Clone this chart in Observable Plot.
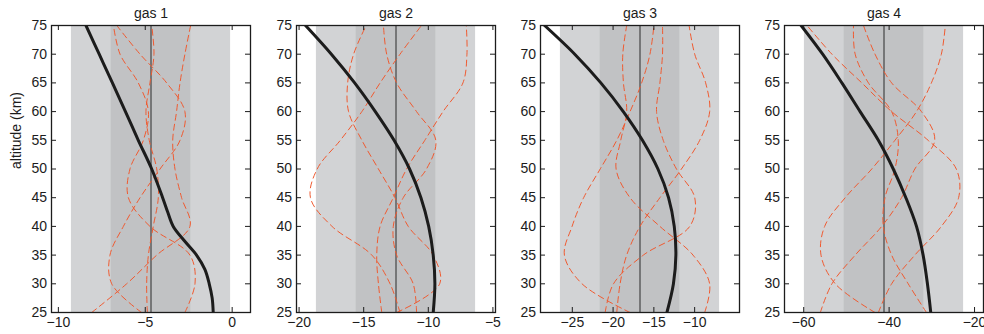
<!DOCTYPE html>
<html>
<head>
<meta charset="utf-8">
<script src="https://cdn.jsdelivr.net/npm/d3@7"></script>
<script src="https://cdn.jsdelivr.net/npm/@observablehq/plot@0.6"></script>
<style>
  body { margin: 0; background: #fff; overflow: hidden; }
  #chart { position: relative; width: 984px; height: 334px; }
  #chart svg { position: absolute; top: 0; }
</style>
</head>
<body>
<div id="chart"></div>
<script>
// Altitude grid (km) shared by the ensemble members
const altitude = [25, 30, 35, 40, 45, 50, 55, 60, 65, 70, 75];
const altTicks = [25, 30, 35, 40, 45, 50, 55, 60, 65, 70, 75];

const gasNames = ["gas 1", "gas 2", "gas 3", "gas 4"];

// Prior mean and standard deviation for each gas
const priorMean = [-4.67, -12.5, -16.7, -41.2];
const priorSigma = [2.29, 3.08, 4.88, 9.32];

const xTicks1 = [-10, -5, 0];
const xTicks2 = [-20, -15, -10, -5];
const xTicks3 = [-25, -20, -15, -10];
const xTicks4 = [-60, -40, -20];

// True profiles (thick black lines)
const trueAlt1 = [25, 27.5, 30, 32.5, 35, 37.5, 40, 42.5, 45, 50, 55, 60, 65, 70, 75];
const trueGas1 = [-1.09, -1.15, -1.32, -1.57, -2.05, -2.75, -3.39, -3.71, -4.0, -4.63, -5.40, -6.14, -6.89, -7.65, -8.41];
const trueGas2 = [-9.62, -9.49, -9.62, -9.97, -10.57, -11.45, -12.65, -14.1, -15.7, -17.5, -19.5];
const trueGas3 = [-13.4, -12.6, -12.3, -12.5, -13.2, -14.5, -16.4, -18.75, -21.5, -24.7, -28.4];
const trueGas4 = [-30.25, -31.03, -32.04, -33.59, -36.08, -39.03, -42.52, -46.79, -51.06, -55.56, -60.61];

// Ensemble members drawn from the prior (red dashed lines), on the altitude grid
const ens1a = [-5.21, -6.93, -7.03, -6.26, -5.30, -4.15, -3.00, -2.72, -3.77, -5.30, -6.64];
const ens1b = [-8.08, -6.07, -4.34, -2.43, -2.91, -3.29, -3.42, -3.20, -3.00, -2.72, -2.39];
const ens1c = [-4.88, -4.92, -4.82, -4.54, -4.25, -4.34, -4.77, -4.96, -4.73, -4.50, -4.63];
const ens1d = [-2.72, -2.14, -2.43, -4.73, -5.97, -5.88, -5.11, -4.82, -5.40, -6.45, -6.83];

const ens2a = [-12.45, -9.12, -9.63, -11.55, -12.58, -13.86, -15.14, -16.17, -16.24, -15.78, -14.81];
const ens2b = [-12.19, -12.96, -14.37, -17.45, -19.12, -18.6, -16.81, -15.14, -13.73, -12.19, -10.53];
const ens2c = [-13.60, -13.86, -13.99, -13.73, -12.71, -11.68, -10.27, -8.86, -7.32, -7.01, -7.06];
const ens2d = [-10.91, -11.17, -12.45, -12.71, -11.94, -10.14, -9.42, -10.91, -12.45, -13.22, -13.47];

const ens3a = [-17.92, -23.81, -25.97, -25.03, -23.61, -21.58, -19.55, -17.92, -16.5, -15.48, -14.99];
const ens3b = [-19.55, -19.14, -18.33, -16.7, -14.26, -11.62, -9.38, -8.16, -8.65, -9.99, -10.68];
const ens3c = [-8.77, -8.16, -10.2, -14.26, -17.92, -19.63, -19.06, -18.33, -18.73, -18.81, -18.33];
const ens3d = [-20.97, -19.95, -16.29, -10.6, -9.99, -12.23, -13.85, -14.67, -14.26, -13.94, -13.94];

const ens4a = [-42.52, -39.41, -33.98, -27.77, -23.73, -24.27, -30.87, -39.41, -46.4, -53.39, -59.21];
const ens4b = [-43.3, -52.61, -55.95, -55.1, -50.28, -44.07, -38.64, -33.59, -30.1, -27.77, -26.84];
const ens4c = [-31.26, -35.53, -39.41, -41.36, -40.97, -38.64, -37.86, -39.41, -44.85, -47.95, -48.34];
const ens4d = [-56.11, -53.39, -47.95, -41.74, -37.09, -33.98, -29.32, -32.43, -39.41, -43.3, -46.01];

const panels = [
  {name: gasNames[0], mean: priorMean[0], sigma: priorSigma[0], ticks: xTicks1, trueAlt: trueAlt1, truth: trueGas1, ens: [ens1a, ens1b, ens1c, ens1d]},
  {name: gasNames[1], mean: priorMean[1], sigma: priorSigma[1], ticks: xTicks2, trueAlt: altitude, truth: trueGas2, ens: [ens2a, ens2b, ens2c, ens2d]},
  {name: gasNames[2], mean: priorMean[2], sigma: priorSigma[2], ticks: xTicks3, trueAlt: altitude, truth: trueGas3, ens: [ens3a, ens3b, ens3c, ens3d]},
  {name: gasNames[3], mean: priorMean[3], sigma: priorSigma[3], ticks: xTicks4, trueAlt: altitude, truth: trueGas4, ens: [ens4a, ens4b, ens4c, ens4d]}
];

// Layout of the four axes boxes
const svgLeft = [0, 256, 500, 744];
const boxLeft = [51, 296, 540, 784];
const boxWidth = 199;
const mTop = 25, mBottom = 22, H = 334;
const boxHeight = H - mTop - mBottom;
const tickLen = 5;

const ink = "#1c1c1c";
const lightBand = "#d2d3d5";
const darkBand = "#c1c2c4";
const red = "#f05a30";

const chart = document.getElementById("chart");

panels.forEach((p, i) => {
  const mL = boxLeft[i] - svgLeft[i];
  const mR = 6;
  const lo = p.mean - 2.5 * p.sigma, hi = p.mean + 2.5 * p.sigma;

  const ensRows = p.ens.flatMap((s, k) => s.map((v, j) => ({member: k, alt: altitude[j], v})));
  const trueRows = p.truth.map((v, j) => ({alt: p.trueAlt[j], v}));

  const marks = [
    Plot.rect([{a: p.mean - 2 * p.sigma, b: p.mean + 2 * p.sigma}], {x1: "a", x2: "b", fill: lightBand}),
    Plot.rect([{a: p.mean - p.sigma, b: p.mean + p.sigma}], {x1: "a", x2: "b", fill: darkBand}),
    Plot.ruleX([p.mean], {stroke: "#2a2a2a", strokeWidth: 1}),
    Plot.line(ensRows, {x: "v", y: "alt", z: "member", stroke: red, strokeWidth: 1, strokeDasharray: "6,4", curve: "catmull-rom", clip: true}),
    Plot.line(trueRows, {x: "v", y: "alt", stroke: ink, strokeWidth: 3, curve: "catmull-rom", clip: true}),
    // inward ticks on all four sides
    Plot.ruleY(altTicks, {y: d => d, insetRight: boxWidth - tickLen, stroke: ink}),
    Plot.ruleY(altTicks, {y: d => d, insetLeft: boxWidth - tickLen, stroke: ink}),
    Plot.ruleX(p.ticks, {x: d => d, insetTop: boxHeight - tickLen, stroke: ink}),
    Plot.ruleX(p.ticks, {x: d => d, insetBottom: boxHeight - tickLen, stroke: ink}),
    Plot.frame({stroke: ink, strokeWidth: 1.3}),
    Plot.axisX(p.ticks, {tickSize: 0, tickPadding: 5, label: null, fill: ink}),
    Plot.axisY(altTicks, {tickSize: 0, tickPadding: 4.5, label: null, fill: ink}),
    Plot.text([p.name], {frameAnchor: "top", dy: -7.5, lineAnchor: "bottom", fontSize: 14, fill: ink})
  ];
  if (i === 0) {
    marks.push(Plot.text(["altitude (km)"], {frameAnchor: "left", dx: -35, rotate: -90, fontSize: 14, fill: ink}));
  }

  const svg = Plot.plot({
    width: mL + boxWidth + mR,
    height: H,
    marginLeft: mL,
    marginRight: mR,
    marginTop: mTop,
    marginBottom: mBottom,
    style: {fontFamily: "'Liberation Sans', Arial, Helvetica, sans-serif", fontSize: "14px", background: "transparent", overflow: "visible"},
    x: {domain: [lo, hi]},
    y: {domain: [25, 75]},
    marks
  });
  svg.style.left = svgLeft[i] + "px";
  chart.appendChild(svg);
});
</script>
</body>
</html>
